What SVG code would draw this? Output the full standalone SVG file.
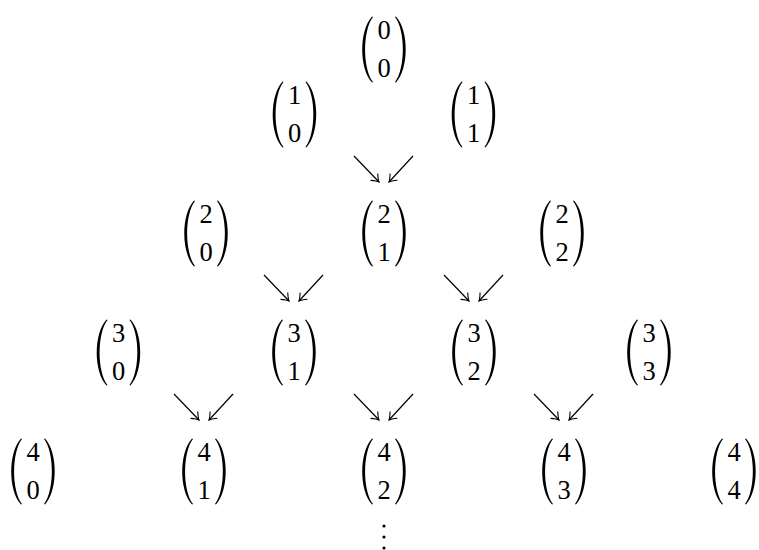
<svg xmlns="http://www.w3.org/2000/svg" width="759" height="550" viewBox="0 0 759 550">
<style>
.d{font-family:"Liberation Serif","DejaVu Serif",serif;font-size:26.5px;fill:#000;text-anchor:middle}
.a{stroke:#000;stroke-width:1.2;fill:none;marker-end:url(#h)}
</style>
<defs>
<marker id="h" viewBox="-8 -6 10 12" markerWidth="10" markerHeight="12" refX="0" refY="0" orient="auto" markerUnits="userSpaceOnUse">
<path d="M-7,-5 Q-2.5,-1 0,0 Q-2.5,1 -7,5" fill="none" stroke="#000" stroke-width="1.1"/>
</marker>
<path id="P" d="M-12,-33 C-25,-19 -25,19 -12,33 L-11,32.5 C-21.5,19 -21.5,-19 -11,-32.5 Z M12,-33 C25,-19 25,19 12,33 L11,32.5 C21.5,19 21.5,-19 11,-32.5 Z"/>
</defs>
<g id="connectors">
<line class="a" x1="354" y1="156" x2="379" y2="182"/><line class="a" x1="413" y1="156" x2="389" y2="182"/>
<line class="a" x1="264" y1="275" x2="289" y2="301"/><line class="a" x1="323" y1="275" x2="299" y2="301"/>
<line class="a" x1="444" y1="275" x2="469" y2="301"/><line class="a" x1="503" y1="275" x2="479" y2="301"/>
<line class="a" x1="174" y1="394" x2="199" y2="420"/><line class="a" x1="233" y1="394" x2="209" y2="420"/>
<line class="a" x1="354" y1="394" x2="379" y2="420"/><line class="a" x1="413" y1="394" x2="389" y2="420"/>
<line class="a" x1="534" y1="394" x2="559" y2="420"/><line class="a" x1="593" y1="394" x2="569" y2="420"/>
</g>
<g id="b00" transform="translate(384,49.5)"><use href="#P"/><text class="d" y="-10.5">0</text><text class="d" y="27.5">0</text></g>
<g id="b10" transform="translate(294.5,114.5)"><use href="#P"/><text class="d" y="-10.5">1</text><text class="d" y="27.5">0</text></g>
<g id="b11" transform="translate(473.5,114.5)"><use href="#P"/><text class="d" y="-10.5">1</text><text class="d" y="27.5">1</text></g>
<g id="b20" transform="translate(206,233.5)"><use href="#P"/><text class="d" y="-10.5">2</text><text class="d" y="27.5">0</text></g>
<g id="b21" transform="translate(384,233.5)"><use href="#P"/><text class="d" y="-10.5">2</text><text class="d" y="27.5">1</text></g>
<g id="b22" transform="translate(562,233.5)"><use href="#P"/><text class="d" y="-10.5">2</text><text class="d" y="27.5">2</text></g>
<g id="b30" transform="translate(118.5,352.5)"><use href="#P"/><text class="d" y="-10.5">3</text><text class="d" y="27.5">0</text></g>
<g id="b31" transform="translate(294,352.5)"><use href="#P"/><text class="d" y="-10.5">3</text><text class="d" y="27.5">1</text></g>
<g id="b32" transform="translate(474,352.5)"><use href="#P"/><text class="d" y="-10.5">3</text><text class="d" y="27.5">2</text></g>
<g id="b33" transform="translate(649,352.5)"><use href="#P"/><text class="d" y="-10.5">3</text><text class="d" y="27.5">3</text></g>
<g id="b40" transform="translate(33,471.5)"><use href="#P"/><text class="d" y="-10.5">4</text><text class="d" y="27.5">0</text></g>
<g id="b41" transform="translate(204,471.5)"><use href="#P"/><text class="d" y="-10.5">4</text><text class="d" y="27.5">1</text></g>
<g id="b42" transform="translate(384,471.5)"><use href="#P"/><text class="d" y="-10.5">4</text><text class="d" y="27.5">2</text></g>
<g id="b43" transform="translate(564,471.5)"><use href="#P"/><text class="d" y="-10.5">4</text><text class="d" y="27.5">3</text></g>
<g id="b44" transform="translate(734,471.5)"><use href="#P"/><text class="d" y="-10.5">4</text><text class="d" y="27.5">4</text></g>
<g id="vdots"><circle cx="384" cy="526" r="1.6"/><circle cx="384" cy="537" r="1.6"/><circle cx="384" cy="548" r="1.6"/></g>
</svg>
